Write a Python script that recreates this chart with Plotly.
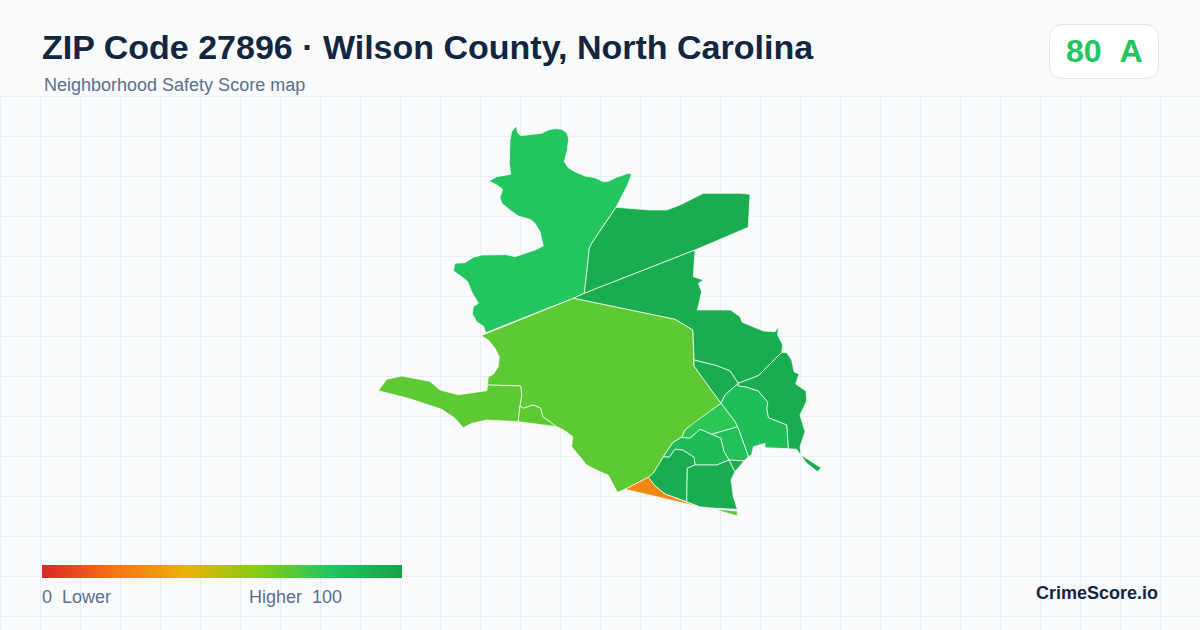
import plotly.graph_objects as go
from plotly.colors import sample_colorscale

W, H = 1200, 630
HEADER = 96
GRID = "#e8eef4"

score_scale = [
    [0.0, "#dc2626"], [0.2, "#f97316"], [0.4, "#eab308"],
    [0.6, "#84cc16"], [0.8, "#22c55e"], [1.0, "#16a34a"],
]
legend_values = list(range(0, 101, 5))

# Boundaries, in image pixels
north_west = [(516, 126), (517.7, 132.7), (520.7, 135.7), (533.3, 134.3), (541.7, 133.3), (548.3, 130), (555, 128.7),
              (561.7, 129.3), (566.7, 132.7), (568.7, 138.3), (567.3, 150), (564.3, 161.7), (568.3, 167.7),
              (575, 171.7), (585, 176), (595, 177.7), (603.3, 181.7), (608.3, 181.3), (616.7, 177.3), (628.3, 173.3),
              (631.7, 174.3), (626.7, 186.7), (616, 207.3), (605, 223.3), (591.7, 243.3), (589.3, 248.3),
              (588.3, 260), (586.7, 273.3), (584.3, 293.3), (573.3, 298.3), (485.7, 332.7), (483.3, 326),
              (476.7, 321.7), (472.3, 314), (473.3, 306.7), (478.3, 303.3), (471.7, 291.7), (467.7, 281.7),
              (461.7, 276.7), (453.3, 270.7), (455, 263.3), (465, 262.7), (473.3, 257.3), (481.7, 255),
              (506.7, 254.7), (515, 256.7), (535, 250), (543.3, 246), (540, 231.7), (535, 223.3), (530, 219.3),
              (518.3, 216), (510, 210), (501.7, 203.3), (500, 197.3), (502.7, 189.3), (496.7, 185), (489, 181),
              (496.7, 176.7), (510.7, 174.3), (509.3, 163.3), (510, 140), (511.7, 131.7), (515, 126.7)]
north_east = [(616, 207.3), (650, 210), (666.7, 210), (680, 205), (703.3, 193.3), (740, 193.3), (750, 194.3),
              (748.3, 227.3), (695, 250), (584.3, 293.3), (586.7, 273.3), (588.3, 260), (589.3, 248.3),
              (591.7, 243.3), (605, 223.3)]
east_upper = [(695, 250), (693.3, 276.7), (703.3, 280), (698.3, 283.3), (701.7, 291.7), (697.3, 310), (730.7, 310),
              (740, 316.7), (742.3, 322.3), (750, 325.7), (763.3, 331), (775, 331.7), (778.3, 327.3), (777.7, 335),
              (782.7, 345), (781.7, 352.3), (758.3, 375.7), (738.3, 383.3), (730, 371), (716.7, 365.7), (694, 360),
              (692.7, 330), (675, 319.3), (573.3, 298.3), (584.3, 293.3)]
central = [(573.3, 298.3), (675, 319.3), (692.7, 330), (694, 360), (694, 366), (721, 403.3), (693.3, 423.3),
           (685, 430), (681.7, 437.3), (672.7, 442.7), (663.3, 456.7), (653.3, 473.3), (648.3, 477.3), (625, 489.3),
           (617.3, 492.3), (608.3, 475), (600, 471.7), (586.7, 465), (571.7, 446.7), (572.7, 436.7), (565, 430.7),
           (556.7, 426.7), (542.7, 416.7), (540.7, 408.3), (533.3, 405), (523.3, 408.3), (520, 405.7), (521.7, 395),
           (520.7, 386), (487.5, 385), (488.3, 376.7), (493.3, 374.3), (498.3, 366.7), (499.3, 356.7), (495, 348.3),
           (488.3, 340), (481, 335.7)]
west_finger = [(487.7, 385), (520.7, 386), (521.7, 395), (520, 405.7), (518.3, 421.7), (486.7, 420), (471.7, 423.3),
               (463.3, 427.7), (455, 418.3), (441.7, 409.3), (408.3, 398.3), (378.3, 390.7), (386.7, 379.3),
               (401.7, 376), (430, 381.3), (440, 390), (458.3, 394.7), (486.7, 390.7)]
west_small = [(520, 405.7), (523.3, 408.3), (533.3, 405), (540.7, 408.3), (542.7, 416.7), (556.7, 426.7), (518.3, 421.7)]
mid_wedge = [(694, 360), (716.7, 365.7), (730, 371), (738.3, 383.3), (725, 395), (721, 403.3), (694, 366)]
east_coast = [(781.7, 352.3), (786.7, 352.7), (791.7, 360), (794, 371.7), (799, 374.3), (795.7, 384), (806, 391),
              (806.7, 401), (800, 415), (805, 431.7), (800, 446.7), (801, 455), (821, 467.7), (817.7, 471.7),
              (806.7, 463.3), (796.7, 449.3), (788.3, 448.7), (786.7, 425), (768.3, 417.7), (766.7, 408.3),
              (767.7, 402.3), (758.3, 391), (746.7, 387.3), (738.3, 386), (738.3, 383.3), (758.3, 375.7)]
east_inner = [(738.3, 386), (746.7, 387.3), (758.3, 391), (767.7, 402.3), (766.7, 408.3), (768.3, 417.7), (786.7, 425),
              (788.3, 448.7), (765, 447.7), (765, 443.3), (753.3, 446.7), (751.7, 455), (748.3, 456.7), (738.3, 428.3),
              (735, 421.7), (721, 403.3), (725, 395), (738.3, 383.3)]
centre_north = [(721, 403.3), (735, 421.7), (737.7, 426.7), (723.3, 430.7), (711.7, 434.3), (700, 429.3), (690, 438.3),
                (681.7, 437.3), (685, 430), (693.3, 423.3)]
centre_east = [(737.7, 426.7), (748.3, 456.7), (744, 461), (729, 460), (724, 451.7), (720.7, 438.3), (711.7, 434.3),
               (723.3, 430.7)]
centre_west = [(681.7, 437.3), (690, 438.3), (700, 429.3), (711.7, 434.3), (720.7, 438.3), (724, 451.7), (729, 460),
               (716.7, 465), (695, 465), (694, 457.3), (682.7, 450), (675, 449.3), (669.3, 457.3), (663.3, 456.7),
               (672.7, 442.7)]
south_west = [(663.3, 456.7), (669.3, 457.3), (675, 449.3), (682.7, 450), (694, 457.3), (695, 465), (687.3, 468.3),
              (686.7, 501.7), (665, 494), (655, 486), (648.3, 477.3), (653.3, 473.3)]
south = [(695, 465), (716.7, 465), (729, 460), (735, 471.7), (731, 480), (733.3, 496.7), (737.3, 509.3),
         (715, 508.3), (699, 506.7), (686.7, 501.7), (687.3, 468.3)]
south_wedge = [(729, 460), (744, 461), (735, 471.7)]
south_strip = [(714, 509.3), (737.3, 511), (737.3, 516)]
south_orange = [(648.3, 477.3), (655, 486), (665, 494), (686.7, 501.7), (699, 506.7), (625, 489.3)]

regions = [north_west, north_east, east_upper, central, west_finger, west_small, mid_wedge, east_coast, east_inner,
           centre_north, centre_east, centre_west, south_west, south, south_wedge, south_strip, south_orange]
scores = [80, 94, 94, 68, 68, 68, 94, 94, 84, 78, 83, 86, 94, 94, 94, 68, 26]


def px(x):
    return x / W


def py(y):
    return 1 - y / H


fig = go.Figure()

for outline, score in zip(regions, scores):
    fig.add_trace(go.Scatter(
        x=[p[0] for p in outline] + [outline[0][0]],
        y=[p[1] for p in outline] + [outline[0][1]],
        mode="lines",
        fill="toself",
        fillcolor=sample_colorscale(score_scale, score / 100)[0],
        line=dict(color="#ffffff", width=0.7),
        hoverinfo="skip",
        showlegend=False,
    ))

# Legend bar
fig.add_trace(go.Heatmap(
    x=legend_values,
    y=[0, 1],
    z=[legend_values, legend_values],
    zmin=0,
    zmax=100,
    zsmooth="best",
    colorscale=score_scale,
    showscale=False,
    hoverinfo="skip",
    xaxis="x2",
    yaxis="y2",
))

fig.update_layout(
    width=W,
    height=H,
    autosize=False,
    margin=dict(l=0, r=0, t=0, b=0),
    paper_bgcolor="#f8fafc",
    plot_bgcolor="#f8fafc",
    xaxis=dict(range=[0, W], domain=[0, 1], tick0=0, dtick=40, showgrid=True, gridcolor=GRID, gridwidth=1,
               zeroline=False, showticklabels=False, ticks="", fixedrange=True),
    yaxis=dict(range=[H, HEADER], domain=[0, py(HEADER)], tick0=HEADER, dtick=40, showgrid=True, gridcolor=GRID,
               gridwidth=1, zeroline=False, showticklabels=False, ticks="", fixedrange=True),
    xaxis2=dict(domain=[px(42), px(402)], range=[0, 100], anchor="y2", visible=False),
    yaxis2=dict(domain=[py(578), py(565)], range=[0, 1], anchor="x2", visible=False),
)

# Plotly drops the grid lines that sit on the plot edge
fig.add_hline(y=HEADER + 0.5, line=dict(color=GRID, width=1), layer="below")
fig.add_vline(x=0.5, line=dict(color=GRID, width=1), layer="below")

# Score badge
fig.add_shape(
    type="path",
    xref="paper", yref="paper",
    path=f"M {px(1063.5)} {py(24.5)} L {px(1144.5)} {py(24.5)} Q {px(1158.5)} {py(24.5)} {px(1158.5)} {py(38.5)} "
         f"L {px(1158.5)} {py(64.5)} Q {px(1158.5)} {py(78.5)} {px(1144.5)} {py(78.5)} L {px(1063.5)} {py(78.5)} "
         f"Q {px(1049.5)} {py(78.5)} {px(1049.5)} {py(64.5)} L {px(1049.5)} {py(38.5)} "
         f"Q {px(1049.5)} {py(24.5)} {px(1063.5)} {py(24.5)} Z",
    fillcolor="#ffffff",
    line=dict(color="#e2e8f0", width=1),
    layer="above",
)


def label(text, x, y, size, color, bold=False, anchor="left"):
    fig.add_annotation(
        x=px(x), y=py(y), xref="paper", yref="paper",
        text=f"<b>{text}</b>" if bold else text,
        showarrow=False,
        xanchor=anchor, yanchor="middle",
        borderpad=0, borderwidth=0,
        font=dict(family="Liberation Sans", size=size, color=color),
    )


label("ZIP Code 27896 · Wilson County, North Carolina", 42, 47, 34, "#12263f", bold=True)
label("Neighborhood Safety Score map", 44, 85, 18, "#5b6f8c")
label("80\u00a0\u00a0A", 1103.5, 51, 32, "#22c55e", bold=True, anchor="center")
label("0\u00a0\u00a0Lower", 42, 597, 18, "#5b6f8c")
label("Higher\u00a0\u00a0100", 249, 597, 18, "#5b6f8c")
label("CrimeScore.io", 1158, 593, 18, "#12263f", bold=True, anchor="right")

# Page margin off so the figure fills the window
fig.write_html("out.html", config=dict(displayModeBar=False), post_script="document.body.style.margin='0';")
